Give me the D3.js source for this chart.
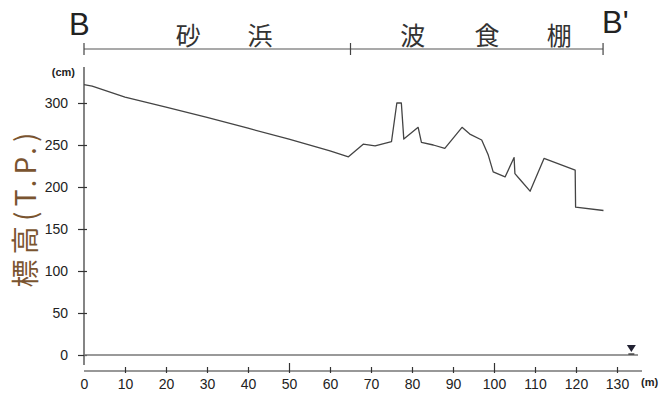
<!DOCTYPE html>
<html>
<head>
<meta charset="utf-8">
<script src="https://cdn.jsdelivr.net/npm/d3@7"></script>
<style>
  html, body { margin: 0; padding: 0; background: #fff; }
  svg { display: block; }
</style>
</head>
<body>
<svg id="chart" width="662" height="394"></svg>
<script>
// Beach profile B–B' : distance (m) vs. elevation T.P. (cm)
const distance = [0, 2, 10, 20, 30, 40, 50, 60, 64.5, 68.1, 71, 75, 76.3, 77.4, 78, 81.5, 82.3, 85.2, 88, 92.2, 94.1, 97, 98.6, 99.8, 102.7, 104.9, 105.1, 106.5, 108.8, 112.2, 119.8, 119.9, 126.7];
const elevation = [322, 320, 307, 295, 283, 270, 257, 243, 236, 251, 249, 254, 300, 300, 257, 271, 253, 250, 246, 271, 263, 256, 238, 218, 212, 235, 216, 208, 195, 234, 220, 176, 172];

const yTicks = [0, 50, 100, 150, 200, 250, 300];
const xTicks = [0, 10, 20, 30, 40, 50, 60, 70, 80, 90, 100, 110, 120, 130];
const majorXTicks = [50, 100];

// Zones along the section and the characters of their names
const zoneBounds = [0, 65, 126.6];
const zoneChars = [
  { ch: "砂", at: 25.4 }, { ch: "浜", at: 42.9 },
  { ch: "波", at: 80.2 }, { ch: "食", at: 98.3 }, { ch: "棚", at: 115.9 }
];
const endLabels = ["B", "B'"];
const waterLevelAt = 133.5;

const svg = d3.select("#chart");
const x = d3.scaleLinear().domain([0, 130]).range([84, 617]);
const y = d3.scaleLinear().domain([0, 300]).range([355, 103]);

const axisColor = "#333";
const numFont = "'Liberation Sans', Arial, sans-serif";
const cjkFont = "'Noto Sans CJK JP', 'Noto Sans CJK SC', sans-serif";

// ---- zone bracket on top ----
const bracketY = 49;
svg.append("line")
  .attr("x1", x(zoneBounds[0])).attr("x2", x(zoneBounds[zoneBounds.length - 1]))
  .attr("y1", bracketY).attr("y2", bracketY)
  .attr("stroke", "#555").attr("stroke-width", 1.2);
svg.selectAll(".zb").data(zoneBounds).join("line")
  .attr("x1", d => x(d)).attr("x2", d => x(d))
  .attr("y1", bracketY - 6).attr("y2", bracketY + 6)
  .attr("stroke", "#444").attr("stroke-width", 1.2);
svg.selectAll(".zc").data(zoneChars).join("text")
  .attr("x", d => x(d.at)).attr("y", 45)
  .attr("text-anchor", "middle")
  .attr("font-family", cjkFont).attr("font-size", 25)
  .attr("fill", "#333")
  .text(d => d.ch);
svg.append("text").attr("x", 69).attr("y", 35)
  .attr("font-family", numFont).attr("font-size", 31).attr("fill", "#222")
  .text(endLabels[0]);
svg.append("text").attr("x", 602).attr("y", 33)
  .attr("font-family", numFont).attr("font-size", 31).attr("fill", "#222")
  .text(endLabels[1]);

// ---- y axis ----
svg.append("line")
  .attr("x1", x(0)).attr("x2", x(0)).attr("y1", 67).attr("y2", 365)
  .attr("stroke", axisColor).attr("stroke-width", 1.2);
const yAxis = svg.append("g")
  .attr("transform", `translate(${x(0)},0)`)
  .call(d3.axisLeft(y).tickValues(yTicks).tickSize(6).tickPadding(10));
yAxis.select(".domain").remove();
yAxis.selectAll(".tick line").attr("x1", 3).attr("x2", -6)
  .attr("stroke", axisColor).attr("stroke-width", 1.2);
yAxis.selectAll(".tick text")
  .attr("font-family", numFont).attr("font-size", 14).attr("fill", "#222");

svg.append("text").attr("x", 75).attr("y", 76).attr("text-anchor", "end")
  .attr("font-family", numFont).attr("font-size", 11).attr("font-weight", "bold")
  .attr("fill", "#222").text("(cm)");

svg.append("text")
  .attr("transform", "translate(36,210) rotate(-90)")
  .attr("text-anchor", "middle")
  .attr("font-family", cjkFont).attr("font-size", 28)
  .attr("fill", "#7a5430")
  .attr("textLength", 155).attr("lengthAdjust", "spacing")
  .text("標高(T.P.)");

// ---- x axis ----
const axisY = 371;
svg.append("line")
  .attr("x1", x(0)).attr("x2", 642).attr("y1", axisY).attr("y2", axisY)
  .attr("stroke", axisColor).attr("stroke-width", 1.2);
const xAxis = svg.append("g")
  .attr("transform", `translate(0,${axisY})`)
  .call(d3.axisBottom(x).tickValues(xTicks).tickSize(0).tickPadding(8));
xAxis.select(".domain").remove();
xAxis.selectAll(".tick line")
  .attr("y1", 2)
  .attr("y2", d => majorXTicks.includes(d) ? -8 : -4)
  .attr("stroke", axisColor).attr("stroke-width", 1.2);
xAxis.selectAll(".tick").filter(d => d === 0).select("line").remove();
xAxis.selectAll(".tick text")
  .attr("font-family", numFont).attr("font-size", 14).attr("fill", "#222");

svg.append("text").attr("x", 641).attr("y", 386)
  .attr("font-family", numFont).attr("font-size", 11).attr("font-weight", "bold")
  .attr("fill", "#222").text("(m)");

// ---- datum line (0 cm) and water level mark ----
svg.append("line")
  .attr("x1", x(0)).attr("x2", 638).attr("y1", y(0)).attr("y2", y(0))
  .attr("stroke", "#777").attr("stroke-width", 1.3);
const wx = x(waterLevelAt);
svg.append("path")
  .attr("d", `M${wx - 4.5},${y(0) - 10} L${wx + 4.5},${y(0) - 10} L${wx},${y(0) - 3} Z`)
  .attr("fill", "#223");
svg.append("line")
  .attr("x1", wx - 3).attr("x2", wx + 3).attr("y1", y(0) - 1).attr("y2", y(0) - 1)
  .attr("stroke", "#222").attr("stroke-width", 1.2);

// ---- profile line ----
const profile = distance.map((d, i) => [d, elevation[i]]);
svg.append("path")
  .datum(profile)
  .attr("fill", "none")
  .attr("stroke", "#444")
  .attr("stroke-width", 1.3)
  .attr("stroke-linejoin", "round")
  .attr("d", d3.line().x(d => x(d[0])).y(d => y(d[1])));
</script>
</body>
</html>
